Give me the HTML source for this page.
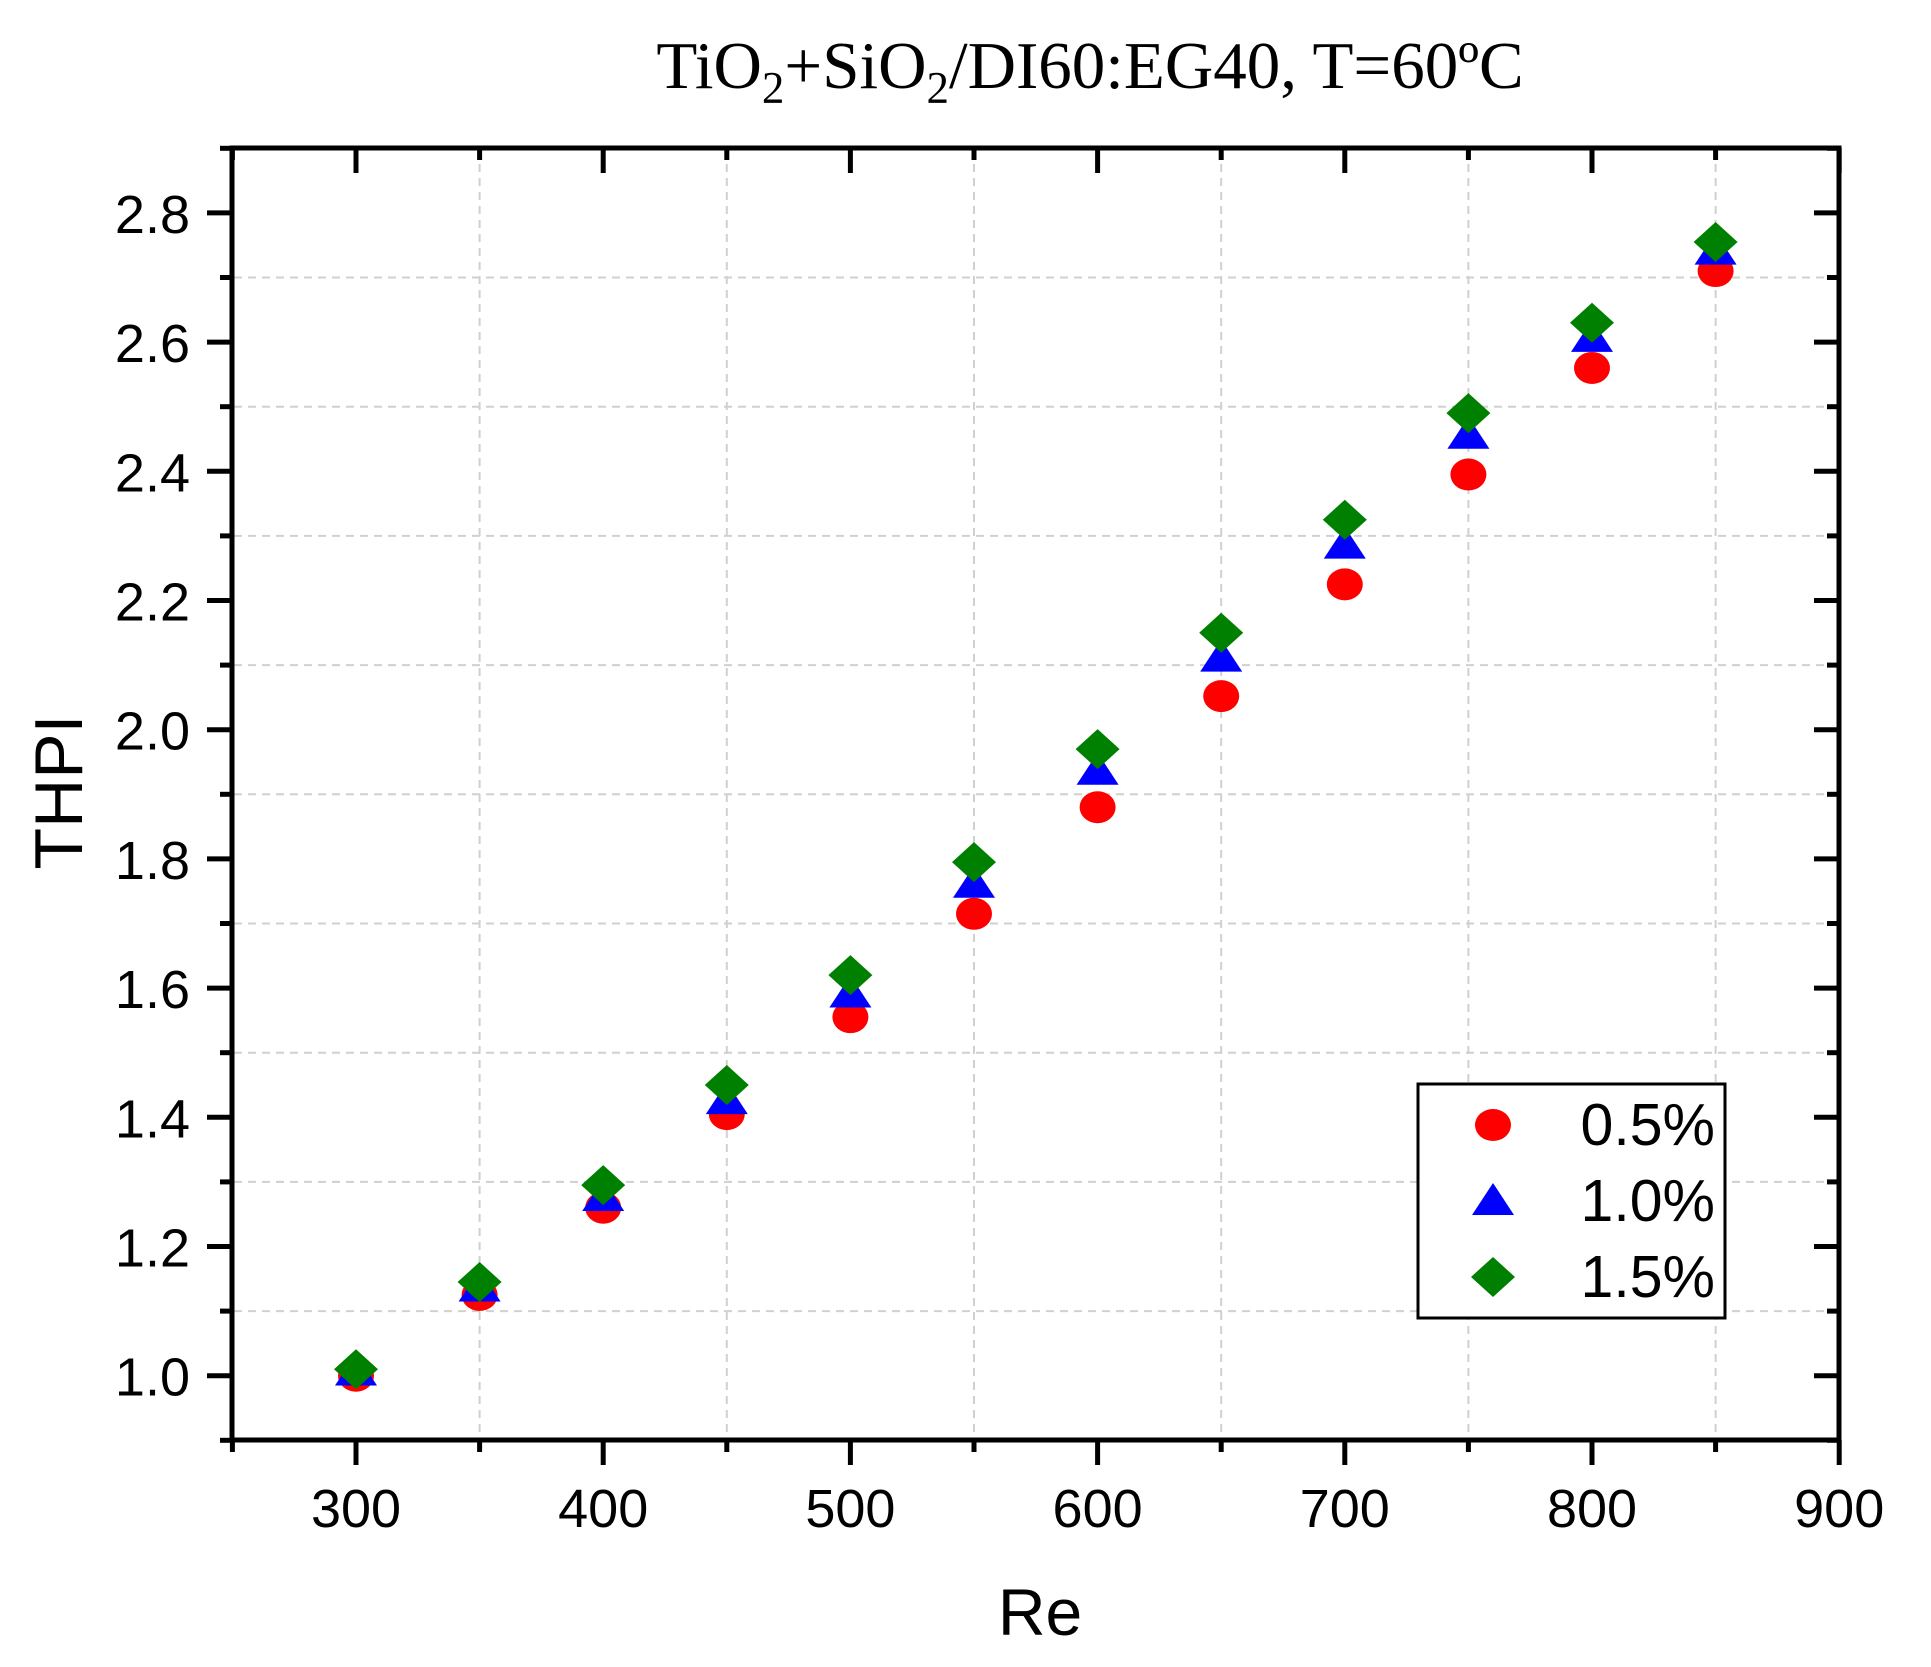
<!DOCTYPE html>
<html><head><meta charset="utf-8"><style>body{margin:0;background:#fff}svg{display:block}</style></head>
<body>
<svg width="1931" height="1667" xmlns="http://www.w3.org/2000/svg" font-family="Liberation Sans, Arial, sans-serif">
<rect width="1931" height="1667" fill="#fff"/>
<text x="1090" y="88" font-family="Liberation Serif, serif" font-size="67" text-anchor="middle">TiO<tspan font-size="45" dy="15">2</tspan><tspan dy="-15">+SiO</tspan><tspan font-size="45" dy="15">2</tspan><tspan dy="-15">/DI60:EG40, T=60ºC</tspan></text>
<g id="grid" stroke="#d0d0d0" stroke-width="2" stroke-dasharray="8,6">
</g>
<g id="ticks" stroke="#000" stroke-width="5"></g>
<g id="labels" font-size="54"></g>
<g id="data"></g>
<rect x="232" y="148" width="1607" height="1292" fill="none" stroke="#000" stroke-width="5"/>
<text x="1040" y="1635" font-size="66" text-anchor="middle">Re</text>
<text transform="translate(82,792) rotate(-90)" font-size="68" text-anchor="middle">THPI</text>
<g transform="translate(-7,-5)">
<rect x="1425" y="1089" width="307" height="234" fill="#fff" stroke="#000" stroke-width="3"/>
<ellipse cx="1500" cy="1130" rx="18" ry="16" fill="#f00"/>
<polygon points="1500,1188 1521,1220 1479,1220" fill="#00f"/>
<polygon points="1500,1262 1522,1282 1500,1302 1478,1282" fill="#008000"/>
<g font-size="59" text-anchor="end"><text x="1722" y="1150">0.5%</text><text x="1722" y="1226">1.0%</text><text x="1722" y="1302">1.5%</text></g>
</g>
<script>
const X=v=>356+(v-300)*2.472, Y=v=>1375.7-(v-1)*646;
const ns='http://www.w3.org/2000/svg';
function el(p,t,a){const e=document.createElementNS(ns,t);for(const k in a)e.setAttribute(k,a[k]);document.getElementById(p).appendChild(e);return e;}
for(let v=350;v<=850;v+=100)el('grid','line',{x1:X(v),x2:X(v),y1:150,y2:1438});
for(let v=1.1;v<2.75;v+=0.2)el('grid','line',{x1:234,x2:1837,y1:Y(v),y2:Y(v)});
for(let v=250;v<=900;v+=50){const maj=v%100==0,L=maj?25:12;
 el('ticks','line',{x1:X(v),x2:X(v),y1:1440,y2:1440+L});
 el('ticks','line',{x1:X(v),x2:X(v),y1:148,y2:148+L});
 if(maj){const t=el('labels','text',{x:X(v),y:1527,'text-anchor':'middle'});t.textContent=v;}}
for(let i=9;i<=29;i++){const v=i/10,maj=i%2==0,L=maj?25:12;
 el('ticks','line',{x1:232-L,x2:232,y1:Y(v),y2:Y(v)});
 el('ticks','line',{x1:1839-L,x2:1839,y1:Y(v),y2:Y(v)});
 if(maj&&i>=10&&i<=28){const t=el('labels','text',{x:190,y:Y(v)+20,'text-anchor':'end'});t.textContent=v.toFixed(1);}}
const xs=[300,350,400,450,500,550,600,650,700,750,800,850];
const a=[1.0,1.125,1.26,1.405,1.555,1.715,1.88,2.052,2.225,2.395,2.56,2.71];
const b=[1.005,1.135,1.275,1.425,1.59,1.76,1.935,2.11,2.285,2.455,2.605,2.74];
const c=[1.01,1.145,1.295,1.45,1.62,1.795,1.97,2.15,2.325,2.49,2.63,2.755];
xs.forEach((x,i)=>{const px=X(x);
 el('data','ellipse',{cx:px,cy:Y(a[i]),rx:18,ry:16,fill:'#f00'});
 let y=Y(b[i]);el('data','polygon',{points:`${px},${y-19} ${px+21},${y+13} ${px-21},${y+13}`,fill:'#00f'});
 y=Y(c[i]);el('data','polygon',{points:`${px},${y-20} ${px+22},${y} ${px},${y+20} ${px-22},${y}`,fill:'#008000'});});
</script>
</svg>
</body></html>
